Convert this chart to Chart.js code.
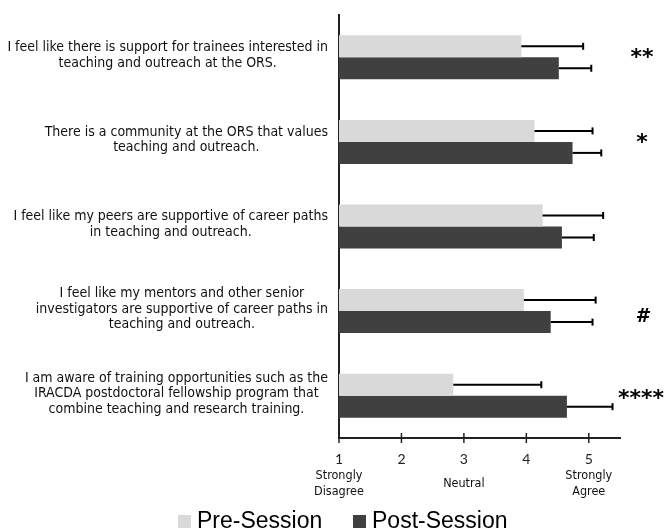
<!DOCTYPE html>
<html>
<head>
<meta charset="utf-8">
<script src="https://cdn.jsdelivr.net/npm/chart.js@4/dist/chart.umd.min.js"></script>
<style>
  html, body { margin: 0; padding: 0; background: #fff; }
  #wrap { width: 664px; height: 531px; }
</style>
</head>
<body>
<div id="wrap"><canvas id="surveyChart" width="664" height="531"></canvas></div>
<script>
// statements, one line array per label
const statements = [
    ['I feel like there is support for trainees interested in', 'teaching and outreach at the ORS.'],
    ['There is a community at the ORS that values', 'teaching and outreach.'],
    ['I feel like my peers are supportive of career paths', 'in teaching and outreach.'],
    ['I feel like my mentors and other senior', 'investigators are supportive of career paths in', 'teaching and outreach.'],
    ['I am aware of training opportunities such as the', 'IRACDA postdoctoral fellowship program that', 'combine teaching and research training.']
];
const preSession = [3.92, 4.13, 4.26, 3.96, 2.83];
const postSession = [4.52, 4.74, 4.57, 4.39, 4.65];
const preError = [0.99, 0.93, 0.97, 1.15, 1.41];
const postError = [0.52, 0.46, 0.51, 0.67, 0.73];
const significance = ['**', '*', '', '#', '****'];
const scaleValues = [1, 2, 3, 4, 5];
const scaleNames = { 1: ['Strongly', 'Disagree'], 3: ['Neutral'], 5: ['Strongly', 'Agree'] };

const condensed = '"Liberation Sans Narrow", "DejaVu Sans Condensed", sans-serif';

const extras = {
    id: 'extras',
    afterDatasetsDraw(chart) {
        const ctx = chart.ctx;
        const xs = chart.scales.x;
        [preError, postError].forEach((errs, di) => {
            const vals = chart.data.datasets[di].data;
            chart.getDatasetMeta(di).data.forEach((bar, i) => {
                const x1 = xs.getPixelForValue(vals[i] + errs[i]);
                ctx.save();
                ctx.strokeStyle = '#000';
                ctx.lineWidth = 2;
                ctx.beginPath();
                ctx.moveTo(bar.x, bar.y);
                ctx.lineTo(x1, bar.y);
                ctx.stroke();
                ctx.beginPath();
                ctx.moveTo(x1, bar.y - 3.5);
                ctx.lineTo(x1, bar.y + 3.5);
                ctx.stroke();
                ctx.restore();
            });
        });
    },
    afterDraw(chart) {
        const ctx = chart.ctx;
        const xs = chart.scales.x, ys = chart.scales.y;
        const area = chart.chartArea;
        ctx.save();
        // statement labels: centred lines, block right-aligned to the axis
        ctx.font = '14px ' + condensed;
        ctx.fillStyle = '#111';
        ctx.textAlign = 'center';
        ctx.textBaseline = 'middle';
        statements.forEach((lines, i) => {
            const yc = ys.getPixelForValue(i);
            const w = Math.max(...lines.map(l => ctx.measureText(l).width));
            const cx = area.left - 11 - w / 2;
            const lh = 15.5;
            lines.forEach((l, k) => {
                ctx.fillText(l, cx, yc - 2 + (k - (lines.length - 1) / 2) * lh);
            });
        });
        // tick marks crossing the x axis
        ctx.strokeStyle = '#222';
        ctx.lineWidth = 1.5;
        scaleValues.forEach(v => {
            const px = xs.getPixelForValue(v);
            ctx.beginPath();
            ctx.moveTo(px, area.bottom - 5);
            ctx.lineTo(px, area.bottom + 5);
            ctx.stroke();
        });
        // scale descriptors
        ctx.font = '12.5px ' + condensed;
        Object.keys(scaleNames).forEach(v => {
            const lines = scaleNames[v];
            const px = xs.getPixelForValue(Number(v));
            lines.forEach((l, k) => {
                ctx.fillText(l, px, area.bottom + 46 + (k - (lines.length - 1) / 2) * 16);
            });
        });
        // significance marks
        ctx.font = 'bold 22px "DejaVu Sans", sans-serif';
        ctx.fillStyle = '#000';
        ctx.textBaseline = 'alphabetic';
        significance.forEach((s, i) => {
            if (!s) return;
            const yc = ys.getPixelForValue(i);
            if (s === '#') {
                ctx.font = 'italic bold 19px "DejaVu Sans", sans-serif';
                ctx.fillText(s, 642, yc + 11);
            } else {
                ctx.font = 'bold 22px "DejaVu Sans", sans-serif';
                ctx.fillText(s, s.length > 3 ? 641 : 642, yc + (s.length > 3 ? 9 : 7));
            }
        });
        // legend
        ctx.font = '23px "Liberation Sans", Arial, sans-serif';
        ctx.textAlign = 'left';
        ctx.textBaseline = 'alphabetic';
        const legendX = [178, 353];
        chart.data.datasets.forEach((ds, di) => {
            ctx.fillStyle = ds.backgroundColor;
            ctx.fillRect(legendX[di], 515, 13, 13);
            ctx.fillStyle = '#000';
            ctx.fillText(ds.label, legendX[di] + 19, 528);
        });
        ctx.restore();
    }
};

const ctx = document.getElementById('surveyChart').getContext('2d');
const surveyChart = new Chart(ctx, {
    type: 'bar',
    data: {
        labels: statements,
        datasets: [{
            label: 'Pre-Session',
            data: preSession,
            backgroundColor: '#d9d9d9'
        }, {
            label: 'Post-Session',
            data: postSession,
            backgroundColor: '#404040'
        }]
    },
    options: {
        indexAxis: 'y',
        responsive: false,
        animation: false,
        layout: { padding: { top: 15, right: 44, left: 0, bottom: 0 } },
        datasets: { bar: { categoryPercentage: 0.52, barPercentage: 1 } },
        scales: {
            x: {
                type: 'linear',
                min: 1,
                max: 5.5,
                afterBuildTicks: s => { s.ticks = scaleValues.map(v => ({ value: v })); },
                afterFit: s => { s.height = 93; },
                grid: { display: false, drawTicks: false },
                border: { display: true, color: '#222', width: 2 },
                ticks: {
                    padding: 13,
                    color: '#222',
                    font: { family: 'Lato, "Open Sans", sans-serif', size: 14 }
                }
            },
            y: {
                afterFit: s => { s.width = 339; },
                grid: { display: false, drawTicks: false },
                border: { display: true, color: '#222', width: 2 },
                ticks: { display: false }
            }
        },
        plugins: {
            legend: { display: false },
            tooltip: { enabled: false }
        }
    },
    plugins: [extras]
});
</script>
</body>
</html>
